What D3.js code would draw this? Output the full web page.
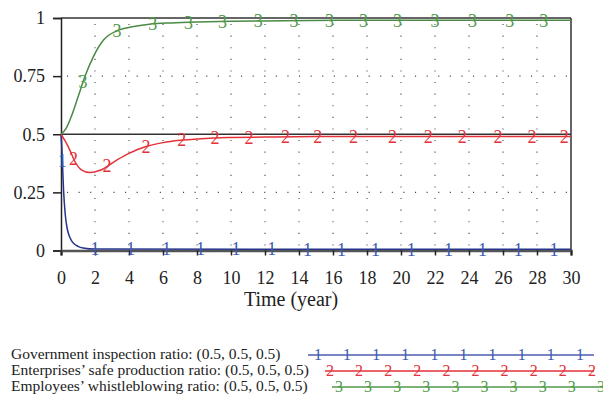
<!DOCTYPE html>
<html>
<head>
<meta charset="utf-8">
<script src="https://cdn.jsdelivr.net/npm/d3@7"></script>
<style>
  body { margin: 0; background: #fff; }
  svg text { font-family: "Liberation Serif", "Times New Roman", serif; }
</style>
</head>
<body>
<div id="chart"></div>
<script>
// time points (years) and values
const govTime = [0, 0.05, 0.1, 0.15, 0.25, 0.35, 0.45, 0.6, 0.75, 1.0, 1.3, 2, 30];
const govRatio = [0.5, 0.44, 0.35, 0.26, 0.155, 0.1, 0.07, 0.045, 0.03, 0.018, 0.011, 0.006, 0.005];

const entTime = [0, 0.25, 0.5, 0.8, 1.2, 1.7, 2.3, 3.3, 4, 5, 6, 7, 8, 9, 10, 12, 15, 20, 30];
const entRatio = [0.5, 0.47, 0.435, 0.385, 0.347, 0.335, 0.345, 0.39, 0.418, 0.447, 0.464, 0.474, 0.48, 0.484, 0.486, 0.488, 0.49, 0.49, 0.49];

const empTime = [0, 0.3, 0.6, 1.0, 1.4, 1.9, 2.5, 3.3, 4.2, 5.2, 6.5, 8, 10, 13, 17, 30];
const empRatio = [0.5, 0.525, 0.575, 0.66, 0.747, 0.833, 0.905, 0.945, 0.962, 0.973, 0.979, 0.983, 0.986, 0.988, 0.99, 0.99];

// where the number markers sit along each curve (years)
const govMarks = [0.08, 2.0, 4.1, 6.2, 8.2, 10.3, 12.4, 14.5, 16.5, 18.5, 20.6, 22.8, 24.8, 26.9, 29.0];
const entMarks = [0.73, 2.7, 5.0, 7.1, 9.06, 11.06, 13.2, 15.1, 17.2, 19.5, 21.6, 23.6, 25.7, 27.7, 29.6];
const empMarks = [1.3, 3.3, 5.4, 7.5, 9.5, 11.6, 13.7, 15.8, 17.8, 19.8, 22.0, 24.2, 26.4, 28.4];

const xTicks = d3.range(0, 31, 2);
const yTicks = [0, 0.25, 0.5, 0.75, 1];
const yTickLabels = ["0", "0.25", "0.5", "0.75", "1"];

const legendLabels = [
    "Government inspection ratio: (0.5, 0.5, 0.5)",
    "Enterprises\u2019 safe production ratio: (0.5, 0.5, 0.5)",
    "Employees\u2019 whistleblowing ratio: (0.5, 0.5, 0.5)"
];

const series = [
    {id: "1", time: govTime, vals: govRatio, marks: govMarks, line: "#26348c", mark: "#3b5aae", key: "#4a5cb0"},
    {id: "2", time: entTime, vals: entRatio, marks: entMarks, line: "#e3323a", mark: "#e3323a", key: "#e3323a"},
    {id: "3", time: empTime, vals: empRatio, marks: empMarks, line: "#4a8a44", mark: "#4f9a48", key: "#4f9a48"}
];

const width = 603, height = 400;
const svg = d3.select("#chart").append("svg")
    .attr("width", width)
    .attr("height", height);

const x = d3.scaleLinear().domain([0, 30]).range([61, 571]);
const y = d3.scaleLinear().domain([0, 1]).range([250.5, 18]);

// dotted grid
const grid = svg.append("g");
grid.selectAll(".vgrid")
    .data(xTicks.filter(d => d > 0 && d < 30))
    .join("line")
    .attr("x1", d => x(d)).attr("x2", d => x(d))
    .attr("y1", y(1) + 6).attr("y2", y(0))
    .attr("stroke", "#444")
    .attr("stroke-width", 1.1)
    .attr("stroke-dasharray", "1.1,10.5");
grid.selectAll(".hgrid")
    .data([0.25, 0.75])
    .join("line")
    .attr("x1", x(0) + 6).attr("x2", x(30))
    .attr("y1", d => y(d)).attr("y2", d => y(d))
    .attr("stroke", "#444")
    .attr("stroke-width", 1.1)
    .attr("stroke-dasharray", "1.1,10.5");

// frame lines
const frame = svg.append("g").attr("stroke", "#333").attr("stroke-width", 1.5);
frame.append("line").attr("x1", x(0)).attr("x2", x(30)).attr("y1", y(1)).attr("y2", y(1));
frame.append("line").attr("x1", x(0)).attr("x2", x(30)).attr("y1", y(0.5)).attr("y2", y(0.5));
frame.append("line").attr("x1", x(30)).attr("x2", x(30)).attr("y1", y(1)).attr("y2", y(0));

// axes
const yAxis = svg.append("g")
    .attr("transform", `translate(${x(0)},0)`)
    .call(d3.axisLeft(y).tickValues(yTicks).tickSize(8).tickPadding(8)
        .tickFormat((d, i) => yTickLabels[i]));
yAxis.select(".domain").attr("stroke", "#222").attr("stroke-width", 1.5);
yAxis.selectAll(".tick line").attr("stroke", "#222").attr("stroke-width", 1.5);
yAxis.selectAll("text").attr("font-size", 18).attr("fill", "#222");

const xAxis = svg.append("g")
    .attr("transform", `translate(0,${y(0)})`)
    .call(d3.axisBottom(x).tickValues(xTicks).tickSize(5).tickPadding(16));
xAxis.select(".domain").attr("stroke", "#555").attr("stroke-width", 2.5);
xAxis.selectAll(".tick line").attr("stroke", "#222").attr("stroke-width", 1.5);
xAxis.selectAll("text").attr("font-size", 18).attr("fill", "#222");

svg.append("text")
    .attr("x", 291)
    .attr("y", 306)
    .attr("text-anchor", "middle")
    .attr("font-size", 20)
    .attr("fill", "#222")
    .text("Time (year)");

// curves
const line = d3.line()
    .x(d => x(d[0]))
    .y(d => y(d[1]))
    .curve(d3.curveMonotoneX);

function valueAt(s, t) {
    const i = Math.min(Math.max(d3.bisectRight(s.time, t), 1), s.time.length - 1);
    const t0 = s.time[i - 1], t1 = s.time[i];
    const k = (t - t0) / (t1 - t0);
    return s.vals[i - 1] + k * (s.vals[i] - s.vals[i - 1]);
}

series.forEach(s => {
    svg.append("path")
        .datum(s.time.map((t, i) => [t, s.vals[i]]))
        .attr("fill", "none")
        .attr("stroke", s.line)
        .attr("stroke-width", 1.5)
        .attr("d", line);

    svg.append("g").selectAll("text")
        .data(s.marks)
        .join("text")
        .attr("x", d => x(d))
        .attr("y", d => y(valueAt(s, d)))
        .attr("text-anchor", "middle")
        .attr("dy", "0.35em")
        .attr("font-size", 18)
        .attr("fill", s.mark)
        .text(s.id);
});

// legend
const legendRows = [
    {x1: 308, x2: 594, m0: 318},
    {x1: 325, x2: 594, m0: 330},
    {x1: 332, x2: 603, m0: 339}
];
const legend = svg.append("g");
legendLabels.forEach((label, i) => {
    const base = 359 + i * 16;
    const s = series[i];
    const r = legendRows[i];
    legend.append("text")
        .attr("x", 11)
        .attr("y", base)
        .attr("font-size", 15.5)
        .attr("fill", "#222")
        .text(label);
    legend.append("line")
        .attr("x1", r.x1).attr("x2", r.x2)
        .attr("y1", base - 4).attr("y2", base - 4)
        .attr("stroke", s.key)
        .attr("stroke-width", 1.5);
    legend.append("g").selectAll("text")
        .data(d3.range(10))
        .join("text")
        .attr("x", k => r.m0 + k * 29.1)
        .attr("y", base - 4)
        .attr("dy", "0.33em")
        .attr("text-anchor", "middle")
        .attr("font-size", 16)
        .attr("fill", s.mark)
        .text(s.id);
});
</script>
</body>
</html>
